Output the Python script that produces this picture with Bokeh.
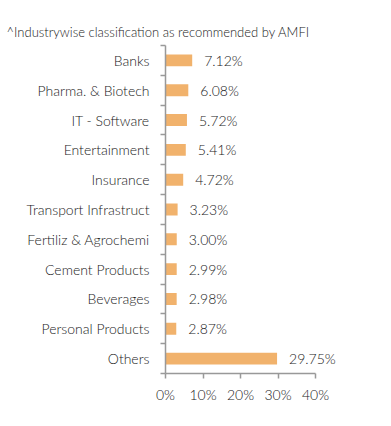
from bokeh.plotting import figure
from bokeh.models import FixedTicker, PrintfTickFormatter, Range1d, ColumnDataSource
from bokeh.core.properties import value
from bokeh.embed import file_html
from bokeh.resources import INLINE

categories = ["Banks", "Pharma. & Biotech", "IT - Software", "Entertainment", "Insurance",
              "Transport Infrastruct", "Fertiliz & Agrochemi", "Cement Products", "Beverages",
              "Personal Products", "Others"]
values = [7.12, 6.08, 5.72, 5.41, 4.72, 3.23, 3.00, 2.99, 2.98, 2.87, 29.75]
x_ticks = [0, 10, 20, 30, 40]
title_text = "^Industrywise classification as recommended by AMFI"

FONT = "Lato Light"

n = len(categories)
ypos = [n - 0.5 - i for i in range(n)]
labels = ["%.2f%%" % v for v in values]
src = ColumnDataSource(dict(y=ypos, v=values, lab=labels))

p = figure(width=383, height=418, output_backend="svg", toolbar_location=None,
           x_range=Range1d(0, 48), y_range=Range1d(0, n),
           min_border_left=165, min_border_right=38, min_border_bottom=45, min_border_top=45)
p.title.text = title_text
p.title.align = "left"
p.title.offset = -159
p.title.standoff = 11
p.title.text_font = FONT
p.title.text_font_size = "13px"
p.title.text_font_style = "normal"
p.title.text_color = "#222222"
p.outline_line_color = None
p.grid.visible = False

p.hbar(y="y", right="v", left=0, height=0.4, source=src, fill_color="#F1B26C", line_color=None)
p.text(x="v", y="y", text="lab", source=src, x_offset=12, text_align="left",
       text_baseline="middle", text_font=value(FONT), text_font_size="14px", text_color="#1a1a1a")

xa = p.xaxis[0]
xa.ticker = FixedTicker(ticks=x_ticks)
xa.bounds = (0, 40)
xa.formatter = PrintfTickFormatter(format="%d%%")
xa.major_tick_out = 5
xa.major_tick_in = 0
xa.minor_tick_line_color = None
xa.axis_line_color = "#999999"
xa.axis_line_width = 1.5
xa.major_tick_line_color = "#999999"
xa.major_tick_line_width = 1.5
xa.major_label_text_font = FONT
xa.major_label_text_font_size = "14px"
xa.major_label_text_color = "#1a1a1a"
xa.major_label_standoff = 7

ya = p.yaxis[0]
ya.ticker = FixedTicker(ticks=ypos, minor_ticks=list(range(n + 1)))
ya.major_label_overrides = {y: c for y, c in zip(ypos, categories)}
ya.major_tick_line_color = None
ya.minor_tick_out = 5
ya.minor_tick_in = 0
ya.minor_tick_line_color = "#999999"
ya.minor_tick_line_width = 1.5
ya.axis_line_color = "#999999"
ya.axis_line_width = 1.5
ya.major_label_text_font = FONT
ya.major_label_text_font_size = "14px"
ya.major_label_text_color = "#1a1a1a"
ya.major_label_standoff = 10

open("out.html", "w").write(file_html(p, INLINE))
